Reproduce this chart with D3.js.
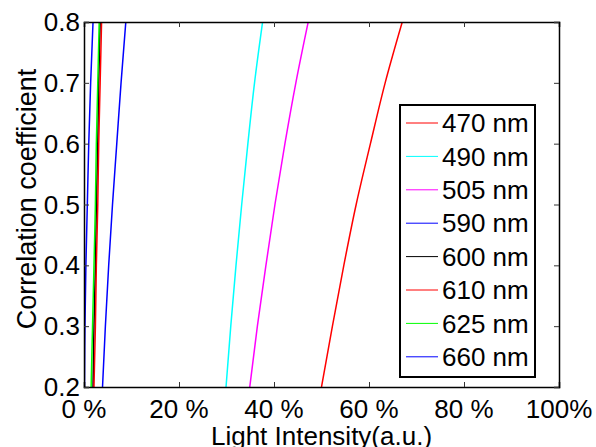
<!DOCTYPE html>
<html>
<head>
<meta charset="utf-8">
<script src="https://cdn.jsdelivr.net/npm/d3@7"></script>
<style>
  body { margin: 0; background: #fff; }
  svg { display: block; font-family: "Liberation Sans", Arial, sans-serif; }
</style>
</head>
<body>
<div id="container"></div>
<script>
// correlation levels (y) at which each curve was read
const corrLevels = [0.2, 0.3, 0.4, 0.5, 0.6, 0.7, 0.8];

const labels = ["470 nm", "490 nm", "505 nm", "590 nm", "600 nm", "610 nm", "625 nm", "660 nm"];
const colors = ["#ff0000", "#00ffff", "#ff00ff", "#0000ff", "#000000", "#ff0000", "#00ff00", "#0000ff"];

// light intensity (%) for each correlation level
const s470 = [50.0, 52.3, 54.7, 57.3, 60.3, 63.4, 67.0];
const s490 = [29.9, 30.9, 32.0, 33.2, 34.5, 35.9, 37.6];
const s505 = [34.9, 36.5, 38.3, 40.2, 42.3, 44.6, 47.2];
const s590 = [0.1, 0.2, 0.4, 0.7, 1.0, 1.4, 1.9];
const s600 = [1.9, 2.1, 2.4, 2.6, 2.9, 3.1, 3.4];
const s610 = [2.1, 2.4, 2.6, 2.9, 3.1, 3.4, 3.7];
const s625 = [1.5, 1.8, 2.1, 2.4, 2.6, 2.9, 3.2];
const s660 = [3.9, 4.5, 5.2, 6.0, 6.9, 7.8, 8.8];
const seriesList = [s470, s490, s505, s590, s600, s610, s625, s660];

const xTicks = [0, 20, 40, 60, 80, 100];
const xTickLabels = ["0 %", "20 %", "40 %", "60 %", "80 %", "100%"];
const yTicks = [0.2, 0.3, 0.4, 0.5, 0.6, 0.7, 0.8];

const width = 596, height = 447;
const pLeft = 84, pRight = 559, pTop = 22, pBottom = 387;

const svg = d3.select("#container").append("svg")
  .attr("width", width).attr("height", height);

svg.append("rect").attr("width", width).attr("height", height).attr("fill", "#fff");

const x = d3.scaleLinear().domain([0, 100]).range([pLeft, pRight]);
const y = d3.scaleLinear().domain([0.2, 0.8]).range([pBottom, pTop]);

svg.append("clipPath").attr("id", "plotclip")
  .append("rect").attr("x", pLeft).attr("y", pTop)
  .attr("width", pRight - pLeft).attr("height", pBottom - pTop);

// curves
const line = d3.line()
  .x(d => x(d[0]))
  .y(d => y(d[1]))
  .curve(d3.curveMonotoneY);

const curves = svg.append("g").attr("clip-path", "url(#plotclip)");
seriesList.forEach((s, i) => {
  curves.append("path")
    .datum(s.map((v, j) => [v, corrLevels[j]]))
    .attr("d", line)
    .attr("fill", "none")
    .attr("stroke", colors[i])
    .attr("stroke-width", 1.5);
});

// axes box with inside ticks
const xb = d3.axisBottom(x).tickValues(xTicks).tickSize(-5).tickFormat("");
const xt = d3.axisTop(x).tickValues(xTicks).tickSize(-5).tickFormat("");
const yl = d3.axisLeft(y).tickValues(yTicks).tickSize(-5).tickFormat("");
const yr = d3.axisRight(y).tickValues(yTicks).tickSize(-5).tickFormat("");

[[xb, `translate(0,${pBottom})`], [xt, `translate(0,${pTop})`],
 [yl, `translate(${pLeft},0)`], [yr, `translate(${pRight},0)`]].forEach(([ax, tr]) => {
  const g = svg.append("g").attr("transform", tr).call(ax);
  g.select(".domain").attr("stroke", "#000").attr("stroke-width", 1.5);
  g.selectAll(".tick line").attr("stroke", "#333").attr("stroke-width", 1);
});

// tick labels
svg.append("g").selectAll("text").data(xTicks).join("text")
  .attr("x", d => x(d))
  .attr("y", 418)
  .attr("text-anchor", "middle")
  .attr("font-size", 26)
  .text((d, i) => xTickLabels[i]);

svg.append("g").selectAll("text").data(yTicks).join("text")
  .attr("x", pLeft - 4)
  .attr("y", d => y(d))
  .attr("dy", "0.35em")
  .attr("text-anchor", "end")
  .attr("font-size", 26)
  .text(d => d3.format(".1f")(d));

// axis titles
svg.append("text")
  .attr("x", (pLeft + pRight) / 2)
  .attr("y", 445)
  .attr("text-anchor", "middle")
  .attr("font-size", 26)
  .text("Light Intensity(a.u.)");

svg.append("text")
  .attr("transform", `translate(36,199) rotate(-90)`)
  .attr("text-anchor", "middle")
  .attr("font-size", 27)
  .text("Correlation coefficient");

// legend
const lgX = 400, lgY = 105, lgW = 135, lgH = 272, rowH = 33.4;
const legend = svg.append("g");
legend.append("rect")
  .attr("x", lgX).attr("y", lgY).attr("width", lgW).attr("height", lgH)
  .attr("fill", "#fff").attr("stroke", "#000").attr("stroke-width", 2);

labels.forEach((lab, i) => {
  const ly = lgY + 18 + i * rowH;
  legend.append("line")
    .attr("x1", lgX + 6).attr("x2", lgX + 38)
    .attr("y1", ly).attr("y2", ly)
    .attr("stroke", colors[i]).attr("stroke-width", 1);
  legend.append("text")
    .attr("x", lgX + 42).attr("y", ly)
    .attr("dy", "0.35em")
    .attr("font-size", 26)
    .text(lab);
});
</script>
</body>
</html>
